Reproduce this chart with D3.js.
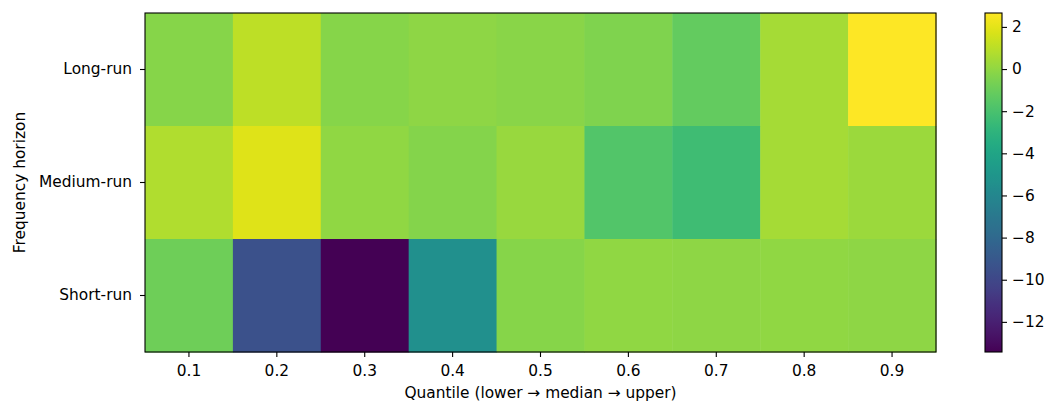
<!DOCTYPE html>
<html>
<head>
<meta charset="utf-8">
<script src="https://cdn.jsdelivr.net/npm/d3@7"></script>
<style>
  body { margin: 0; background: #fff; }
  text { font-family: "DejaVu Sans", sans-serif; fill: #000; }
</style>
</head>
<body>
<div id="chart"></div>
<script>
const quantiles = ["0.1", "0.2", "0.3", "0.4", "0.5", "0.6", "0.7", "0.8", "0.9"];
const horizons = ["Long-run", "Medium-run", "Short-run"];

const longRun   = [-0.24, 1.05, -0.24, -0.07, -0.2, -0.48, -1.2, 0.49, 2.66];
const mediumRun = [0.73, 1.86, 0.0, -0.3, 0.17, -1.68, -2.33, 0.49, 0.25];
const shortRun  = [-0.88, -9.41, -13.43, -5.39, -0.24, 0.0, -0.1, 0.0, -0.07];

const colorTicks = [2, 0, -2, -4, -6, -8, -10, -12];

const rows = [longRun, mediumRun, shortRun];
const cells = [];
horizons.forEach((h, i) => {
    quantiles.forEach((q, j) => cells.push({ h, q, v: rows[i][j] }));
});

const width = 1046, height = 403;
const plot = { left: 145, top: 13, right: 936, bottom: 352 };
const cbar = { left: 985, right: 1002 };
const fontSize = 15.4;

const svg = d3.select("#chart").append("svg")
    .attr("width", width)
    .attr("height", height);

const x = d3.scaleBand().domain(quantiles).range([plot.left, plot.right]);
const y = d3.scaleBand().domain(horizons).range([plot.top, plot.bottom]);

const extent = d3.extent(cells, d => d.v);
const color = d3.scaleSequential(d3.interpolateViridis).domain(extent);

svg.append("g")
    .selectAll("rect")
    .data(cells)
    .enter().append("rect")
    .attr("x", d => x(d.q))
    .attr("y", d => y(d.h))
    .attr("width", x.bandwidth() + 0.5)
    .attr("height", y.bandwidth() + 0.5)
    .attr("fill", d => color(d.v));

svg.append("rect")
    .attr("x", plot.left)
    .attr("y", plot.top)
    .attr("width", plot.right - plot.left)
    .attr("height", plot.bottom - plot.top)
    .attr("fill", "none")
    .attr("stroke", "#000")
    .attr("stroke-width", 1.1);

const xAxis = svg.append("g")
    .attr("transform", `translate(0,${plot.bottom})`)
    .call(d3.axisBottom(x).tickSize(5).tickPadding(8));
xAxis.select(".domain").remove();

const yAxis = svg.append("g")
    .attr("transform", `translate(${plot.left},0)`)
    .call(d3.axisLeft(y).tickSize(5).tickPadding(8));
yAxis.select(".domain").remove();

// colorbar
const cy = d3.scaleLinear().domain(extent).range([plot.bottom, plot.top]);

const grad = svg.append("defs").append("linearGradient")
    .attr("id", "viridis")
    .attr("x1", "0").attr("y1", "1")
    .attr("x2", "0").attr("y2", "0");
d3.range(0, 1.0001, 0.02).forEach(t => {
    grad.append("stop")
        .attr("offset", t)
        .attr("stop-color", d3.interpolateViridis(t));
});

svg.append("rect")
    .attr("x", cbar.left)
    .attr("y", plot.top)
    .attr("width", cbar.right - cbar.left)
    .attr("height", plot.bottom - plot.top)
    .attr("fill", "url(#viridis)")
    .attr("stroke", "#000")
    .attr("stroke-width", 1.1);

const cAxis = svg.append("g")
    .attr("transform", `translate(${cbar.right},0)`)
    .call(d3.axisRight(cy).tickValues(colorTicks).tickSize(5).tickPadding(5));
cAxis.select(".domain").remove();

svg.selectAll(".tick text").style("font-size", fontSize + "px");
svg.selectAll(".tick line").attr("stroke-width", 1.1);

svg.append("text")
    .attr("x", (plot.left + plot.right) / 2)
    .attr("y", 397.5)
    .attr("text-anchor", "middle")
    .style("font-size", fontSize + "px")
    .text("Quantile (lower \u2192 median \u2192 upper)");

svg.append("text")
    .attr("transform", `translate(24.5,${(plot.top + plot.bottom) / 2}) rotate(-90)`)
    .attr("text-anchor", "middle")
    .style("font-size", fontSize + "px")
    .text("Frequency horizon");
</script>
</body>
</html>
